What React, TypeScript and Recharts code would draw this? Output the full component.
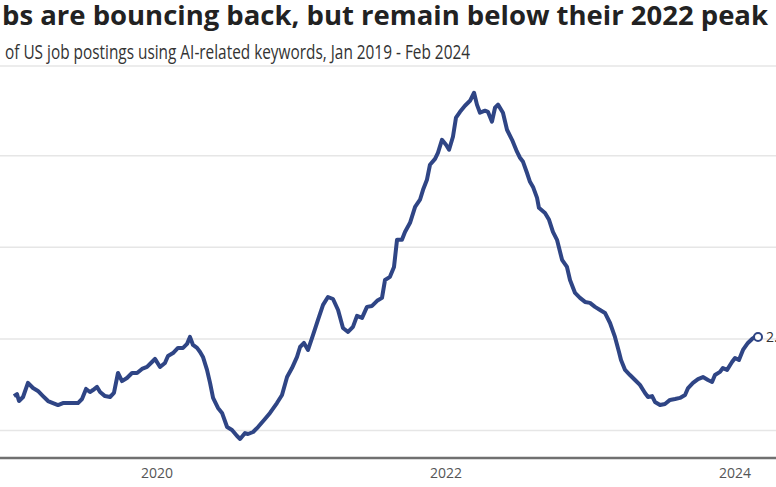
import React from "react"
import { LineChart, Line, XAxis, YAxis, CartesianGrid } from "recharts"

// decimal year of each reading
const dates = [
  2019.010, 2019.031, 2019.045, 2019.073, 2019.107, 2019.142, 2019.176, 2019.211, 2019.246, 2019.280,
  2019.315, 2019.349, 2019.384, 2019.418, 2019.453, 2019.481, 2019.509, 2019.536, 2019.557, 2019.585,
  2019.606, 2019.640, 2019.675, 2019.702, 2019.730, 2019.758, 2019.792, 2019.827, 2019.862, 2019.896,
  2019.931, 2019.965, 2019.986, 2020.021, 2020.055, 2020.076, 2020.111, 2020.145, 2020.180, 2020.208,
  2020.228, 2020.249, 2020.277, 2020.298, 2020.318, 2020.346, 2020.367, 2020.388, 2020.422, 2020.450,
  2020.485, 2020.519, 2020.554, 2020.575, 2020.609, 2020.630, 2020.665, 2020.699, 2020.747, 2020.782,
  2020.830, 2020.865, 2020.900, 2020.934, 2020.969, 2020.990, 2021.017, 2021.045, 2021.080, 2021.114,
  2021.149, 2021.183, 2021.218, 2021.253, 2021.287, 2021.322, 2021.356, 2021.384, 2021.419, 2021.453,
  2021.488, 2021.523, 2021.557, 2021.578, 2021.612, 2021.640, 2021.661, 2021.695, 2021.716, 2021.751,
  2021.786, 2021.820, 2021.841, 2021.868, 2021.889, 2021.924, 2021.944, 2021.972, 2022.000, 2022.021,
  2022.048, 2022.069, 2022.097, 2022.131, 2022.166, 2022.194, 2022.214, 2022.235, 2022.270, 2022.290,
  2022.318, 2022.339, 2022.360, 2022.394, 2022.422, 2022.457, 2022.491, 2022.512, 2022.533, 2022.560,
  2022.581, 2022.602, 2022.630, 2022.643, 2022.685, 2022.713, 2022.740, 2022.768, 2022.803, 2022.837,
  2022.858, 2022.893, 2022.927, 2022.962, 2022.996, 2023.031, 2023.066, 2023.100, 2023.135, 2023.169,
  2023.197, 2023.211, 2023.239, 2023.273, 2023.308, 2023.342, 2023.377, 2023.398, 2023.426, 2023.446,
  2023.481, 2023.515, 2023.550, 2023.585, 2023.619, 2023.654, 2023.675, 2023.709, 2023.744, 2023.778,
  2023.813, 2023.841, 2023.861, 2023.896, 2023.916, 2023.945, 2023.979, 2024.000, 2024.027, 2024.055,
  2024.089, 2024.118, 2024.138, 2024.159,
]

// share of postings, %
const shares = [
  1.688, 1.699, 1.661, 1.683, 1.760, 1.732, 1.716, 1.688, 1.661, 1.650,
  1.639, 1.650, 1.650, 1.650, 1.650, 1.672, 1.727, 1.710, 1.721, 1.738,
  1.710, 1.688, 1.683, 1.705, 1.814, 1.770, 1.787, 1.814, 1.814, 1.836,
  1.847, 1.874, 1.891, 1.847, 1.869, 1.907, 1.923, 1.951, 1.951, 1.973,
  2.011, 1.967, 1.951, 1.929, 1.902, 1.831, 1.760, 1.678, 1.623, 1.596,
  1.519, 1.503, 1.470, 1.454, 1.486, 1.481, 1.492, 1.519, 1.563, 1.596,
  1.650, 1.694, 1.792, 1.841, 1.902, 1.956, 1.978, 1.940, 2.022, 2.104,
  2.186, 2.229, 2.218, 2.158, 2.060, 2.038, 2.066, 2.126, 2.115, 2.175,
  2.180, 2.208, 2.224, 2.322, 2.339, 2.393, 2.541, 2.541, 2.584, 2.634,
  2.721, 2.760, 2.814, 2.869, 2.951, 2.983, 3.016, 3.087, 3.060, 3.033,
  3.104, 3.208, 3.240, 3.273, 3.300, 3.344, 3.279, 3.235, 3.246, 3.240,
  3.186, 3.262, 3.279, 3.235, 3.142, 3.087, 3.022, 2.989, 2.967, 2.907,
  2.858, 2.830, 2.770, 2.716, 2.688, 2.650, 2.584, 2.541, 2.432, 2.393,
  2.322, 2.251, 2.224, 2.202, 2.197, 2.175, 2.158, 2.142, 2.087, 2.011,
  1.929, 1.885, 1.831, 1.803, 1.776, 1.749, 1.705, 1.683, 1.688, 1.656,
  1.639, 1.645, 1.667, 1.672, 1.678, 1.694, 1.732, 1.760, 1.781, 1.792,
  1.776, 1.765, 1.803, 1.820, 1.841, 1.831, 1.874, 1.896, 1.885, 1.940,
  1.978, 2.000, 2.011, 2.011,
]

const yearTicks = [2020, 2022, 2024]
const gridTicks = [1.5, 2, 2.5, 3]

const TITLE = "bs are bouncing back, but remain below their 2022 peak"
const SUBTITLE = "of US job postings using AI-related keywords, Jan 2019 - Feb 2024"
const END_LABEL = "2.0%"

const LINE_COLOR = "#2f4585"
const FONT = "'Open Sans', 'Noto Sans', sans-serif"

const data = dates.map((t, i) => ({ t, share: shares[i] }))

export default function App() {
  const last = data.length - 1

  // only the last point gets a marker + value
  const renderDot = (props: any) => {
    const { cx, cy, index } = props
    if (index !== last) return <g key={`d-${index}`} />
    return (
      <g key={`d-${index}`}>
        <circle cx={cx} cy={cy} r={4} fill="#fff" stroke={LINE_COLOR} strokeWidth={2} />
        <text x={cx + 8} y={cy + 5} fontSize={14} fill="#333" fontFamily={FONT}>
          {END_LABEL}
        </text>
      </g>
    )
  }

  const renderTick = (props: any) => {
    const { x, y, payload } = props
    return (
      <text x={x} y={y + 12} textAnchor="middle" fontSize={14} fill="#555" fontFamily={FONT}>
        {payload.value}
      </text>
    )
  }

  return (
    <div style={{ position: "absolute", left: 0, top: 0, width: 776, height: 487, background: "#fff", overflow: "hidden" }}>
      <svg width={776} height={70} style={{ position: "absolute", left: 0, top: 0 }}>
        <text
          x={2}
          y={25}
          fontSize={27}
          fontWeight={700}
          fill="#222"
          fontFamily={FONT}
          textLength={766}
          lengthAdjust="spacingAndGlyphs"
        >
          {TITLE}
        </text>
        <text
          x={5}
          y={59}
          fontSize={20}
          fill="#333"
          fontFamily={FONT}
          textLength={465}
          lengthAdjust="spacingAndGlyphs"
        >
          {SUBTITLE}
        </text>
      </svg>
      <LineChart
        width={776}
        height={487}
        data={data}
        margin={{ top: 66, right: 0, left: 0, bottom: 0 }}
        style={{ position: "absolute", left: 0, top: 0 }}
      >
        <CartesianGrid vertical={false} stroke="#e6e6e6" strokeWidth={1.5} />
        <XAxis
          dataKey="t"
          type="number"
          domain={[2018.9135, 2024.2835]}
          ticks={yearTicks}
          allowDataOverflow
          height={29}
          tickLine={false}
          tickSize={6}
          axisLine={{ stroke: "#707070", strokeWidth: 2.5 }}
          tick={renderTick}
        />
        <YAxis hide domain={[1.35, 3.49]} ticks={gridTicks} allowDataOverflow />
        <Line
          type="linear"
          dataKey="share"
          stroke={LINE_COLOR}
          strokeWidth={4}
          strokeLinejoin="round"
          dot={renderDot}
          activeDot={false}
          isAnimationActive={false}
        />
      </LineChart>
    </div>
  )
}
